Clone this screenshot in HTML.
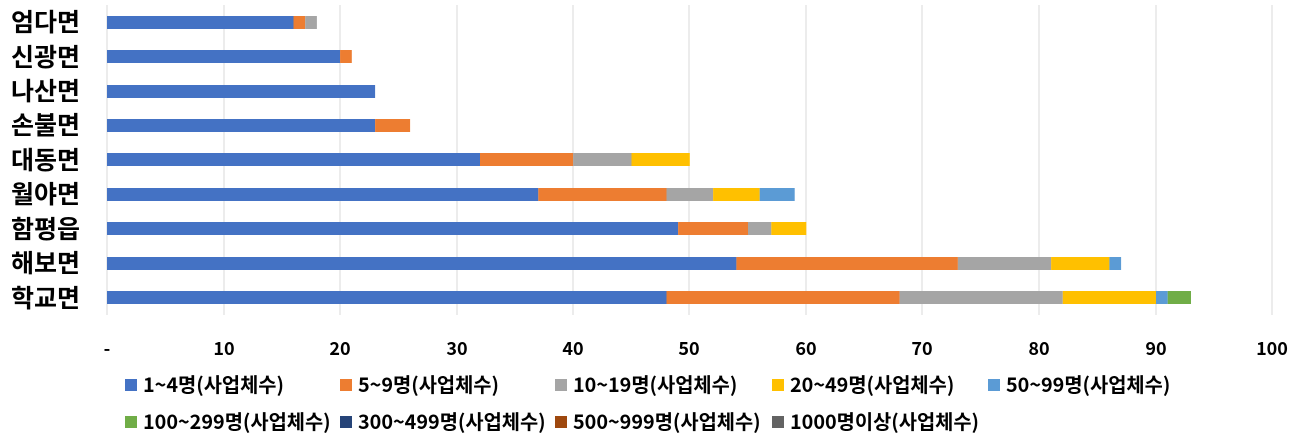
<html><head><style>body{margin:0;background:#fff}text{font-family:"Noto Sans CJK KR",sans-serif;font-weight:bold}</style></head><body>
<svg width="1307" height="447" xmlns="http://www.w3.org/2000/svg">
<rect width="1307" height="447" fill="#fff"/>
<g stroke="#d9d9d9" stroke-width="1">
<line x1="224" y1="5" x2="224" y2="315"/><line x1="340" y1="5" x2="340" y2="315"/><line x1="457" y1="5" x2="457" y2="315"/><line x1="573" y1="5" x2="573" y2="315"/><line x1="689" y1="5" x2="689" y2="315"/><line x1="806" y1="5" x2="806" y2="315"/><line x1="922" y1="5" x2="922" y2="315"/><line x1="1039" y1="5" x2="1039" y2="315"/><line x1="1156" y1="5" x2="1156" y2="315"/><line x1="1272" y1="5" x2="1272" y2="315"/>
</g>
<line x1="107" y1="5" x2="107" y2="315" stroke="#d9d9d9"/>
<g font-size="25" text-anchor="end" fill="#000">
<text x="80" y="31">엄다면</text><text x="80" y="66">신광면</text><text x="80" y="100">나산면</text><text x="80" y="134">손불면</text><text x="80" y="169">대동면</text><text x="80" y="203">월야면</text><text x="80" y="238">함평읍</text><text x="80" y="272">해보면</text><text x="80" y="307">학교면</text>
</g>
<g font-size="18" text-anchor="middle" fill="#000">
<text x="107" y="355">-</text><text x="224" y="355">10</text><text x="340" y="355">20</text><text x="457" y="355">30</text><text x="573" y="355">40</text><text x="689" y="355">50</text><text x="806" y="355">60</text><text x="922" y="355">70</text><text x="1039" y="355">80</text><text x="1156" y="355">90</text><text x="1272" y="355">100</text>
</g>
<g font-size="19.8" fill="#000">
<rect x="125" y="379" width="12" height="12" fill="#4472c4"/><text x="143" y="392">1~4명(사업체수)</text>
<rect x="340" y="379" width="12" height="12" fill="#ed7d31"/><text x="358" y="392">5~9명(사업체수)</text>
<rect x="555" y="379" width="12" height="12" fill="#a5a5a5"/><text x="573" y="392">10~19명(사업체수)</text>
<rect x="772" y="379" width="12" height="12" fill="#ffc000"/><text x="790" y="392">20~49명(사업체수)</text>
<rect x="988" y="379" width="12" height="12" fill="#5b9bd5"/><text x="1006" y="392">50~99명(사업체수)</text>
<rect x="125" y="416" width="12" height="12" fill="#70ad47"/><text x="143" y="429">100~299명(사업체수)</text>
<rect x="340" y="416" width="12" height="12" fill="#264478"/><text x="358" y="429">300~499명(사업체수)</text>
<rect x="555" y="416" width="12" height="12" fill="#9e480e"/><text x="573" y="429">500~999명(사업체수)</text>
<rect x="772" y="416" width="12" height="12" fill="#636363"/><text x="790" y="429">1000명이상(사업체수)</text>
</g>
<g>
<rect x="107" y="16" width="186.5" height="13" fill="#4472c4"/><rect x="293.5" y="16" width="11.7" height="13" fill="#ed7d31"/><rect x="305.2" y="16" width="11.7" height="13" fill="#a5a5a5"/>
<rect x="107" y="50" width="233.1" height="13" fill="#4472c4"/><rect x="340.1" y="50" width="11.7" height="13" fill="#ed7d31"/>
<rect x="107" y="85" width="268.1" height="13" fill="#4472c4"/>
<rect x="107" y="119" width="268.1" height="13" fill="#4472c4"/><rect x="375.1" y="119" width="35" height="13" fill="#ed7d31"/>
<rect x="107" y="153" width="373" height="13" fill="#4472c4"/><rect x="480" y="153" width="93.2" height="13" fill="#ed7d31"/><rect x="573.2" y="153" width="58.3" height="13" fill="#a5a5a5"/><rect x="631.5" y="153" width="58.3" height="13" fill="#ffc000"/>
<rect x="107" y="188" width="431.3" height="13" fill="#4472c4"/><rect x="538.3" y="188" width="128.2" height="13" fill="#ed7d31"/><rect x="666.5" y="188" width="46.6" height="13" fill="#a5a5a5"/><rect x="713.1" y="188" width="46.6" height="13" fill="#ffc000"/><rect x="759.7" y="188" width="35" height="13" fill="#5b9bd5"/>
<rect x="107" y="222" width="571.1" height="13" fill="#4472c4"/><rect x="678.1" y="222" width="69.9" height="13" fill="#ed7d31"/><rect x="748" y="222" width="23.3" height="13" fill="#a5a5a5"/><rect x="771.3" y="222" width="35" height="13" fill="#ffc000"/>
<rect x="107" y="257" width="629.4" height="13" fill="#4472c4"/><rect x="736.4" y="257" width="221.5" height="13" fill="#ed7d31"/><rect x="957.9" y="257" width="93.2" height="13" fill="#a5a5a5"/><rect x="1051.1" y="257" width="58.3" height="13" fill="#ffc000"/><rect x="1109.4" y="257" width="11.7" height="13" fill="#5b9bd5"/>
<rect x="107" y="291" width="559.5" height="13" fill="#4472c4"/><rect x="666.5" y="291" width="233.1" height="13" fill="#ed7d31"/><rect x="899.6" y="291" width="163.2" height="13" fill="#a5a5a5"/><rect x="1062.8" y="291" width="93.2" height="13" fill="#ffc000"/><rect x="1156" y="291" width="11.7" height="13" fill="#5b9bd5"/><rect x="1167.7" y="291" width="23.3" height="13" fill="#70ad47"/>
</g>
</svg>
</body></html>
